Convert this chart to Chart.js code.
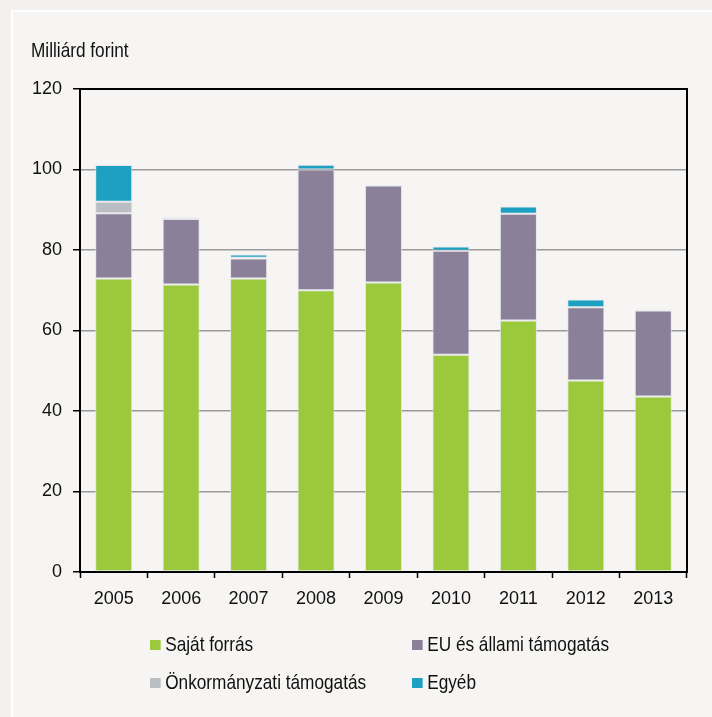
<!DOCTYPE html>
<html>
<head>
<meta charset="utf-8">
<script src="https://cdn.jsdelivr.net/npm/chart.js@4"></script>
<style>
  html, body { margin: 0; padding: 0; background: #f2f1ef; }
  body { width: 712px; height: 717px; position: relative; overflow: hidden;
         font-family: "Liberation Sans", Arial, sans-serif; color: #111; }
  #panel { position: absolute; left: 11px; top: 10px; width: 720px; height: 720px;
           background: #f6f5f3; border-left: 2px solid #fff; border-top: 2px solid #fff; }
  #wrap { position: absolute; left: 0; top: 0; width: 712px; height: 717px; }
  /* the source uses a narrow face; squeeze the regular one */
  .narrow { transform: scaleX(0.82); transform-origin: 0 50%; }
  #unit { position: absolute; left: 31px; top: 38px; font-size: 21px; white-space: nowrap; }
  #legend { position: absolute; left: 150px; top: 631px; width: 520px; }
  .item { position: absolute; font-size: 21px; white-space: nowrap; line-height: 26px; }
  .item span.box { display: inline-block; width: 12.5px; height: 10px; margin-right: 6px; vertical-align: 1px; }
</style>
</head>
<body>
<div id="panel"></div>
<div id="wrap"><canvas id="chart"></canvas></div>
<div id="unit" class="narrow">Milliárd forint</div>
<div id="legend"></div>

<script>
document.addEventListener("DOMContentLoaded", () => {

/* DATA */

const years = ["2005", "2006", "2007", "2008", "2009", "2010", "2011", "2012", "2013"];

const sajatForras = [72.9, 71.4, 72.9, 70.0, 71.9, 54.0, 62.5, 47.6, 43.6];
const euAllami   = [16.2, 16.3, 5.0, 30.0, 24.1, 25.8, 26.5, 18.2, 21.4];
const onkormanyzati = [2.9, 0, 0.2, 0, 0, 0, 0, 0, 0];
const egyeb      = [9.1, 0.4, 0.8, 1.2, 0.1, 1.1, 1.8, 1.9, 0.2];

const yTicks = [0, 20, 40, 60, 80, 100, 120];

const seriesNames = ["Saját forrás", "EU és állami támogatás", "Önkormányzati támogatás", "Egyéb"];
const seriesColors = ["#9aca3c", "#8a8099", "#babdc1", "#1da0c1"];

const FONT = "'Liberation Sans', Arial, sans-serif";

/* CHART */

const seriesData = [sajatForras, euAllami, onkormanyzati, egyeb];

const datasets = seriesData.map((d, i) => ({
    label: seriesNames[i],
    data: d,
    backgroundColor: seriesColors[i],
    borderColor: "rgba(225,225,230,0.8)",
    borderWidth: 1,
    borderSkipped: false,
    barPercentage: 0.55,
    categoryPercentage: 1
}));

// black frame round the plot area
const frame = {
    id: "frame",
    afterDatasetsDraw(chart) {
        const a = chart.chartArea;
        const ctx = chart.ctx;
        ctx.save();
        ctx.strokeStyle = "#000";
        ctx.lineWidth = 2;
        ctx.beginPath();
        ctx.moveTo(a.left, a.top);
        ctx.lineTo(a.right, a.top);
        ctx.lineTo(a.right, a.bottom);
        ctx.stroke();
        ctx.restore();
    }
};

new Chart(document.getElementById("chart"), {
    type: "bar",
    data: { labels: years, datasets: datasets },
    plugins: [frame],
    options: {
        responsive: true,
        maintainAspectRatio: false,
        animation: false,
        layout: { padding: { left: 10, right: 25, top: 89, bottom: 94 } },
        plugins: {
            legend: { display: false },
            tooltip: { enabled: false }
        },
        scales: {
            x: {
                stacked: true,
                grid: { display: true, drawOnChartArea: false, offset: true, tickLength: 6, tickColor: "#000", tickWidth: 1.5 },
                border: { color: "#000", width: 2 },
                ticks: { color: "#111", font: { family: FONT, size: 18 }, padding: 10, maxRotation: 0 },
                afterFit(s) { s.height = 51; }
            },
            y: {
                stacked: true,
                min: 0,
                max: 120,
                afterBuildTicks(s) { s.ticks = yTicks.map(v => ({ value: v })); },
                grid: {
                    color: ctx => ctx.tick && ctx.tick.value === 120 ? "#000" : "#9a9a9a",
                    lineWidth: 1.5,
                    tickLength: 7,
                    tickColor: "#000",
                    tickWidth: 1.5
                },
                border: { color: "#000", width: 2 },
                ticks: { color: "#111", font: { family: FONT, size: 18 }, padding: 11 },
                afterFit(s) { s.width = 70; }
            }
        }
    }
});

/* LEGEND */

const legend = document.getElementById("legend");
const legendPos = [[0, 0], [262, 0], [0, 38], [262, 38]];
seriesNames.forEach((name, i) => {
    const div = document.createElement("div");
    div.className = "item narrow";
    div.style.left = legendPos[i][0] + "px";
    div.style.top = legendPos[i][1] + "px";
    div.innerHTML = `<span class="box" style="background:${seriesColors[i]}"></span>${name}`;
    legend.appendChild(div);
});

});
</script>
</body>
</html>
